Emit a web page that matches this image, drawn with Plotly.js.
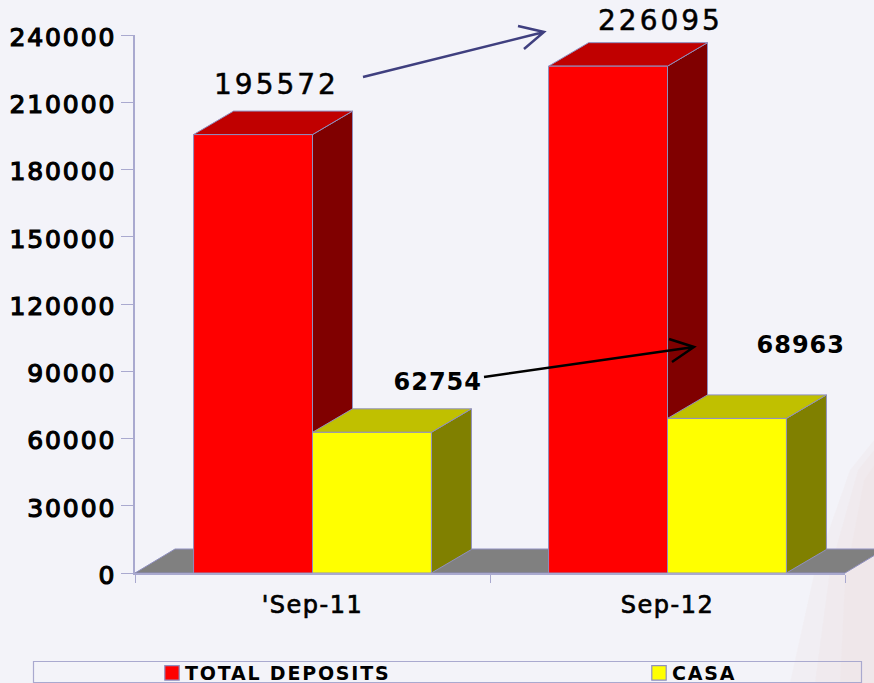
<!DOCTYPE html>
<html>
<head>
<meta charset="utf-8">
<script src="https://cdn.plot.ly/plotly-3.0.1.min.js"></script>
<style>
html,body{margin:0;padding:0;background:#f3f3f9;overflow:hidden}
#chart{width:874px;height:683px}
.ytick text{letter-spacing:1.9px;stroke:#000;stroke-width:1.2px}
.xtick text{letter-spacing:1.5px;stroke:#000;stroke-width:.7px}
.annotation-text.wide{letter-spacing:3px;stroke:#000;stroke-width:.5px}
.annotation-text.tight{letter-spacing:1px}
.legendtext{letter-spacing:1.8px}
.legendpoints path{transform:translate(27px,0) scale(1.2)}
</style>
</head>
<body>
<div id="chart"></div>
<script>
const categories = ["'Sep-11", "Sep-12"];
const totalDeposits = [195572, 226095];
const casa = [62754, 68963];
const seriesNames = ["TOTAL DEPOSITS", "CASA"];
const yTickStep = 30000;
const yMax = 240000;

const W = 874, H = 683, L = 135, R = 845, T = 35, B = 573;
const px = x => (x - L) / (R - L);
const py = y => (B - y) / (B - T);
const BARW = 0.335;
const DX = 40 / 355, DY = 23.5 / (B - T) * yMax;
const EDGE = '#8f8fbf';

function poly(points, fill, xref, yref) {
  return {type:'path', layer:'below', xref:xref||'x', yref:yref||'y',
    path:'M' + points.map(p => p[0] + ',' + p[1]).join('L') + 'Z',
    fillcolor:fill, line:{color:EDGE, width:1}};
}
function box3d(x0, x1, v, side, top) {
  return [
    poly([[x1,0],[x1+DX,DY],[x1+DX,v+DY],[x1,v]], side),
    poly([[x0,v],[x0+DX,v+DY],[x1+DX,v+DY],[x1,v]], top)
  ];
}
function pxPath(points){ return points.map(p => px(p[0]) + ',' + py(p[1])); }
function arrow(tail, tip, b1, b2, color, width) {
  const a = pxPath([tail, tip, b1, b2]);
  return {type:'path', layer:'above', xref:'paper', yref:'paper',
    path:`M${a[0]}L${a[1]}M${a[2]}L${a[1]}L${a[3]}`,
    line:{color:color, width:width}};
}

const shapes = [];
// faint background picture at the lower right
[[[850,470],[874,440],[874,683],[790,683],[815,570]],
 [[858,470],[874,450],[874,683],[815,683],[830,570]],
 [[864,480],[874,465],[874,683],[840,683],[845,580]]].forEach(p => {
  shapes.push({type:'path', layer:'below', xref:'paper', yref:'paper',
    path:'M'+pxPath(p).join('L')+'Z', fillcolor:'#eedfdf', opacity:.22, line:{width:0}});
});
// floor
shapes.push({type:'path', layer:'below', xref:'paper', yref:'paper',
  path:'M'+pxPath([[135,573],[175,549],[885,549],[845,573]]).join('L')+'Z',
  fillcolor:'#808080', line:{color:EDGE, width:1}});
// legend frame
shapes.push({type:'rect', layer:'below', xref:'paper', yref:'paper',
  x0:px(33.5), x1:px(861.5), y0:py(661.5), y1:py(682.5),
  fillcolor:'rgba(0,0,0,0)', line:{color:'#a9a9cf', width:1.2}});
categories.forEach((c, i) => {
  shapes.push(...box3d(i-BARW, i, totalDeposits[i], '#800000', '#c00000'));
  shapes.push(...box3d(i, i+BARW, casa[i], '#808000', '#c0c000'));
});
shapes.push(arrow([363,77],[544,32],[518,26],[524,49],'#3f3f7f',2.5));
shapes.push(arrow([484,377],[694,347],[669,339],[672,362],'#000000',2.5));

const bold = {family:'DejaVu Sans', size:24, color:'#000', weight:700};
const plain = {family:'DejaVu Sans', size:28, color:'#000'};
function label(v, x, y, font) {
  return {text:String(v), xref:'paper', yref:'paper', x:px(x), y:py(y),
    xanchor:'center', yanchor:'middle', showarrow:false, font:font};
}
const annotations = [
  label(totalDeposits[0], 276, 84, plain),
  label(totalDeposits[1], 660, 20, plain),
  label(casa[0], 438, 382, bold),
  label(casa[1], 801, 345, bold)
];

const edge = {color:EDGE, width:1};
const traces = [
  {type:'bar', name:seriesNames[0], x:categories, y:totalDeposits, legendwidth:442, marker:{color:'#ff0000', line:edge}, hoverinfo:'y'},
  {type:'bar', name:seriesNames[1], x:categories, y:casa, legendwidth:100, marker:{color:'#ffff00', line:edge}, hoverinfo:'y'}
];
const axisColor = '#a9a9cf';
const layout = {
  width:W, height:H,
  margin:{l:L, r:W-R, t:T, b:H-B, pad:0, autoexpand:false},
  paper_bgcolor:'#f3f3f9', plot_bgcolor:'rgba(0,0,0,0)',
  barmode:'group', bargap:0.33, bargroupgap:0,
  showlegend:true,
  legend:{orientation:'h', x:px(145), xanchor:'left', y:py(673), yanchor:'middle',
    bgcolor:'rgba(0,0,0,0)', borderwidth:0, traceorder:'normal',
    font:{family:'DejaVu Sans', size:19, color:'#000', weight:700}},
  xaxis:{type:'category', range:[-0.5,1.5], tickson:'boundaries', ticks:'outside', ticklen:8, tickwidth:1,
    tickcolor:axisColor, showline:true, linecolor:axisColor, linewidth:1.5, showgrid:false, zeroline:false,
    ticklabelstandoff:9,
    tickfont:{family:'DejaVu Sans', size:24, color:'#000'}, automargin:false},
  yaxis:{range:[0,yMax], dtick:yTickStep, tick0:0, tickformat:'d', ticks:'outside', ticklen:12, tickwidth:1,
    tickcolor:axisColor, showline:true, linecolor:axisColor, linewidth:1.5, showgrid:false, zeroline:false,
    ticklabelshift:2,
    tickfont:{family:'DejaVu Sans', size:25, color:'#000'}, automargin:false},
  shapes:shapes, annotations:annotations
};
Plotly.newPlot('chart', traces, layout, {displayModeBar:false, responsive:false}).then(() => {
  document.querySelectorAll('.annotation-text').forEach(t => {
    t.classList.add(t.textContent.startsWith('19') || t.textContent.startsWith('22') ? 'wide' : 'tight');
  });
});
</script>
</body>
</html>
